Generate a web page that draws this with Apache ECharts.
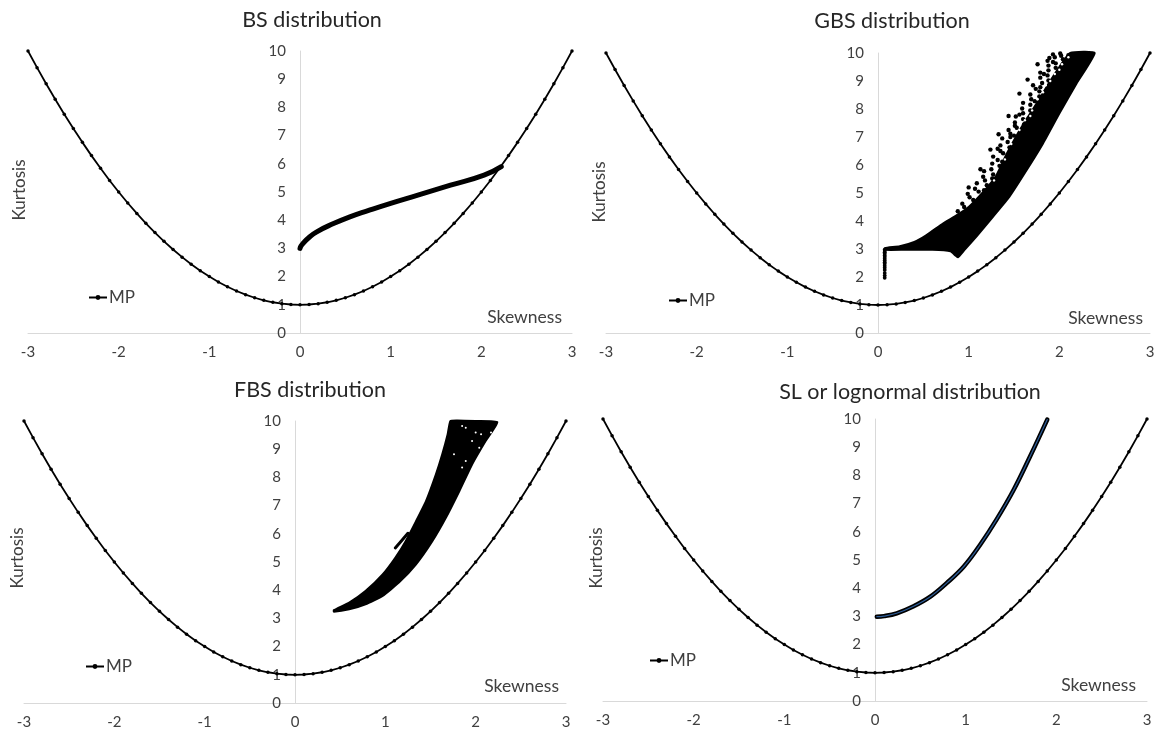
<!DOCTYPE html>
<html><head><meta charset="utf-8">
<script src="https://cdn.jsdelivr.net/npm/echarts@6/dist/echarts.min.js"></script>
<style>html,body{margin:0;padding:0;background:#fff}#c{width:1158px;height:731px}</style>
</head><body><div id="c"></div>
<script>
// ---------- data ----------
const panelTitles = ['BS distribution', 'GBS distribution', 'FBS distribution', 'SL or lognormal distribution'];
const xAxisName = 'Skewness';
const yAxisName = 'Kurtosis';
const legendName = 'MP';
const xTicks = [-3, -2, -1, 0, 1, 2, 3];
const yTicks = [0, 1, 2, 3, 4, 5, 6, 7, 8, 9, 10];

// MP boundary
const mpSkew = [-3,-2.9,-2.8,-2.7,-2.6,-2.5,-2.4,-2.3,-2.2,-2.1,-2,-1.9,-1.8,-1.7,-1.6,-1.5,-1.4,-1.3,-1.2,-1.1,-1,-0.9,-0.8,-0.7,-0.6,-0.5,-0.4,-0.3,-0.2,-0.1,0,0.1,0.2,0.3,0.4,0.5,0.6,0.7,0.8,0.9,1,1.1,1.2,1.3,1.4,1.5,1.6,1.7,1.8,1.9,2,2.1,2.2,2.3,2.4,2.5,2.6,2.7,2.8,2.9,3];
const mpKurt = [10,9.41,8.84,8.29,7.76,7.25,6.76,6.29,5.84,5.41,5,4.61,4.24,3.89,3.56,3.25,2.96,2.69,2.44,2.21,2,1.81,1.64,1.49,1.36,1.25,1.16,1.09,1.04,1.01,1,1.01,1.04,1.09,1.16,1.25,1.36,1.49,1.64,1.81,2,2.21,2.44,2.69,2.96,3.25,3.56,3.89,4.24,4.61,5,5.41,5.84,6.29,6.76,7.25,7.76,8.29,8.84,9.41,10];

// BS curve
const bsSkew = [0, 0.01, 0.04, 0.09, 0.18, 0.37, 0.55, 0.75, 1.0, 1.3, 1.66, 2.03, 2.22];
const bsKurt = [3.0, 3.08, 3.2, 3.36, 3.58, 3.88, 4.12, 4.34, 4.6, 4.89, 5.24, 5.6, 5.9];

// GBS dense region outline
const gbsEdgeSkew = [0.074, 0.24, 0.4, 0.535, 0.72, 0.865, 1.0, 1.15, 1.3, 1.42, 1.52, 1.65, 1.77, 1.88, 2.0, 2.12, 2.39,
                     2.19, 2.0, 1.82, 1.64, 1.45, 1.27, 1.085, 0.95, 0.88, 0.85, 0.8, 0.6, 0.3, 0.074];
const gbsEdgeKurt = [3.03, 3.1, 3.25, 3.5, 3.92, 4.2, 4.5, 5.0, 5.6, 6.4, 7.0, 7.7, 8.3, 8.9, 9.5, 10.0, 10.0,
                     8.91, 7.84, 6.77, 5.82, 4.87, 4.16, 3.44, 2.95, 2.7, 2.78, 2.92, 2.97, 2.97, 2.97];
// GBS scattered points above the dense region
const gbsDotSkew = [0.88,0.95,0.93,1.05,1.01,0.99,1.11,1.07,1.2,1.09,1.18,1.16,1.27,1.17,1.25,1.34,1.26,1.32,1.27,1.38,1.35,1.45,1.35,1.43,1.37,1.5,1.46,1.44,1.53,1.61,1.51,1.6,1.52,1.6,1.68,1.59,1.68,1.6,1.69,1.78,1.68,1.78,1.74,1.71,1.81,1.88,1.79,1.87,1.79,1.88,1.96,1.88,1.96,1.87,2.04,1.95,2.02,1.93,2.01,2.1,
                    1.0,1.13,1.24,1.33,1.44,1.56,1.65,1.76,
                    1.17,1.26,1.37,1.32,1.46,1.51,1.56,1.73,1.79,1.83,1.93,1.89];
const gbsDotKurt = [4.35,4.5,4.62,4.75,4.85,4.97,5.05,5.15,5.28,5.35,5.45,5.58,5.66,5.78,5.85,5.97,6.05,6.18,6.3,6.42,6.5,6.63,6.7,6.82,6.95,7.05,7.12,7.25,7.33,7.45,7.52,7.64,7.73,7.85,7.95,8.02,8.15,8.22,8.35,8.45,8.52,8.63,8.72,8.85,8.93,9.02,9.12,9.2,9.3,9.38,9.47,9.55,9.63,9.72,9.78,9.85,9.9,9.95,9.98,9.92,
                    5.2,5.85,6.55,7.1,7.75,8.55,9.05,9.6,
                    5.1,5.52,6.12,6.58,7.0,7.4,7.8,8.28,8.78,9.25,9.68,9.82];
// GBS vertical stem
const gbsStemSkew = [0.074,0.074,0.074,0.074,0.074,0.074,0.074,0.074,0.074,0.074,0.074,0.074,0.074,0.074,0.074,0.074];
const gbsStemKurt = [1.97,2.05,2.14,2.25,2.33,2.4,2.47,2.53,2.59,2.65,2.71,2.77,2.83,2.88,2.93,2.98];
// GBS white specks inside the dense region
const gbsGapSkew = [1.28,1.4,1.47,1.56,1.62,1.7,1.76,1.82,1.9,1.95,2.03,2.1,1.68,1.85,2.0];
const gbsGapKurt = [5.45,6.2,6.75,7.25,7.6,7.95,8.35,8.6,9.0,9.25,9.6,9.85,7.75,8.85,9.4];

// FBS region outline
const fbsEdgeSkew = [0.43, 0.6, 0.78, 0.97, 1.11, 1.225, 1.34, 1.45, 1.56, 1.63, 1.69, 1.72, 1.8, 2.0, 2.24,
                     2.11, 1.96, 1.82, 1.67, 1.52, 1.34, 1.15, 0.97, 0.78, 0.6, 0.43];
const fbsEdgeKurt = [3.29, 3.56, 3.97, 4.56, 5.15, 5.74, 6.45, 7.16, 8.11, 8.82, 9.53, 10.0, 10.02, 10.0, 9.96,
                     9.29, 8.46, 7.52, 6.57, 5.74, 4.92, 4.27, 3.8, 3.5, 3.32, 3.24];
// FBS thin spur
const fbsSpurSkew = [1.11, 1.17, 1.25];
const fbsSpurKurt = [5.5, 5.72, 6.02];
// FBS small gaps near the top
const fbsGapSkew = [1.85, 1.89, 2.0, 2.06, 2.17, 1.96, 2.04, 1.76, 1.89, 1.85];
const fbsGapKurt = [9.82, 9.76, 9.59, 9.53, 9.59, 9.29, 9.05, 8.82, 8.58, 8.35];

// SL (lognormal) curve
const slSkew = [0.02, 0.1, 0.24, 0.42, 0.61, 0.79, 0.98, 1.16, 1.34, 1.53, 1.71, 1.9];
const slKurt = [2.99, 3.01, 3.11, 3.35, 3.7, 4.18, 4.77, 5.54, 6.43, 7.49, 8.67, 9.98];

// ---------- layout ----------
const FONT = 'Lato, "Open Sans", sans-serif';
const grids = [
  {left: 28, top: 51, width: 544, height: 282},
  {left: 606, top: 53, width: 544, height: 280},
  {left: 24, top: 421, width: 542, height: 282},
  {left: 603, top: 419, width: 544, height: 282}
];
const titlePos = [[312, 20], [892, 21], [310, 390], [910, 392]];
const kurtPos = [[20, 190], [600, 192], [18, 558], [597, 558]];
const skewPos = [[562, 317], [1143, 318], [559, 686], [1136, 685]];
const legendPos = [[88, 289], [668, 292], [85, 658], [649, 652]];

const pairs = (xs, ys) => xs.map((x, i) => [x, ys[i]]);

function polygonSeries(idx, xs, ys) {
  return {
    type: 'custom', xAxisIndex: idx, yAxisIndex: idx, silent: true, z: 3,
    data: pairs(xs, ys), encode: {x: 0, y: 1},
    renderItem: function (params, api) {
      if (params.dataIndex !== 0) return null;
      const pts = xs.map((x, i) => api.coord([x, ys[i]]));
      return {type: 'polygon', shape: {points: pts, smooth: 0.15},
        style: {fill: '#000', stroke: '#000', lineWidth: 2, lineJoin: 'round'}};
    }
  };
}
function scatter(idx, xs, ys, color, size, z) {
  return {type: 'scatter', xAxisIndex: idx, yAxisIndex: idx, silent: true, z: z || 4,
    data: pairs(xs, ys), symbol: 'circle', symbolSize: size,
    itemStyle: {color: color, opacity: 1}};
}
function curve(idx, xs, ys, color, width, z, smooth) {
  return {type: 'line', xAxisIndex: idx, yAxisIndex: idx, silent: true, z: z || 4,
    data: pairs(xs, ys), showSymbol: false, smooth: smooth || false,
    lineStyle: {color: color, width: width, cap: 'round', join: 'round'}};
}

const series = [];
for (let i = 0; i < 4; i++) {
  series.push({
    name: legendName, type: 'line', xAxisIndex: i, yAxisIndex: i, z: 2,
    data: pairs(mpSkew, mpKurt), symbol: 'circle', symbolSize: 3.5, showSymbol: true,
    lineStyle: {color: '#000', width: 1.8}, itemStyle: {color: '#000'}
  });
}
series.push(curve(0, bsSkew, bsKurt, '#000', 5, 4, 0.5));
series.push(polygonSeries(1, gbsEdgeSkew, gbsEdgeKurt));
series.push(scatter(1, gbsDotSkew, gbsDotKurt, '#000', 4.4));
series.push(scatter(1, gbsStemSkew, gbsStemKurt, '#000', 3.8));
series.push(scatter(1, gbsGapSkew, gbsGapKurt, '#fff', 2.4, 6));
series.push(polygonSeries(2, fbsEdgeSkew, fbsEdgeKurt));
series.push(curve(2, fbsSpurSkew, fbsSpurKurt, '#000', 3, 4));
series.push(scatter(2, fbsGapSkew, fbsGapKurt, '#fff', 2, 6));
series.push(curve(3, slSkew, slKurt, '#000', 4.5, 4, 0.4));
series.push(curve(3, slSkew, slKurt, '#2e5e9a', 1.2, 5, 0.4));

const xAxes = grids.map((g, i) => ({
  type: 'value', gridIndex: i, min: xTicks[0], max: xTicks[xTicks.length - 1], interval: 1,
  axisLine: {onZero: false, lineStyle: {color: '#d9d9d9', width: 1}},
  axisTick: {show: false}, splitLine: {show: false},
  axisLabel: {color: '#404040', fontSize: 15, fontFamily: FONT, margin: 12}
}));
const yAxes = grids.map((g, i) => ({
  type: 'value', gridIndex: i, position: 'left', offset: -g.width / 2,
  min: yTicks[0], max: yTicks[yTicks.length - 1], interval: 1,
  axisLine: {show: true, onZero: false, lineStyle: {color: '#d9d9d9', width: 1}},
  axisTick: {show: false}, splitLine: {show: false},
  axisLabel: {color: '#404040', fontSize: 15, fontFamily: FONT, margin: 14}
}));

const graphics = [];
for (let i = 0; i < 4; i++) {
  graphics.push({type: 'text', x: titlePos[i][0], y: titlePos[i][1], silent: true,
    style: {text: panelTitles[i], align: 'center', verticalAlign: 'middle', fontSize: 21.5, fontFamily: FONT, fill: '#262626'}});
  graphics.push({type: 'text', x: kurtPos[i][0], y: kurtPos[i][1], rotation: Math.PI / 2, silent: true,
    style: {text: yAxisName, align: 'center', verticalAlign: 'middle', fontSize: 17, fontFamily: FONT, fill: '#404040'}});
  graphics.push({type: 'text', x: skewPos[i][0], y: skewPos[i][1], silent: true,
    style: {text: xAxisName, align: 'right', verticalAlign: 'middle', fontSize: 17.5, fontFamily: FONT, fill: '#404040'}});
}

const option = {
  animation: false,
  backgroundColor: '#fff',
  grid: grids.map(g => Object.assign({containLabel: false, outerBoundsMode: 'none'}, g)),
  xAxis: xAxes,
  yAxis: yAxes,
  legend: legendPos.map(p => ({
    data: [legendName], left: p[0], top: p[1], itemWidth: 18, itemHeight: 6, itemGap: 2,
    selectedMode: false, padding: 0,
    textStyle: {color: '#404040', fontSize: 17, fontFamily: FONT, padding: [0, 0, 0, -3]}
  })),
  series: series,
  graphic: graphics
};
const chart = echarts.init(document.getElementById('c'), null, {renderer: 'canvas'});
chart.setOption(option);
</script></body></html>
